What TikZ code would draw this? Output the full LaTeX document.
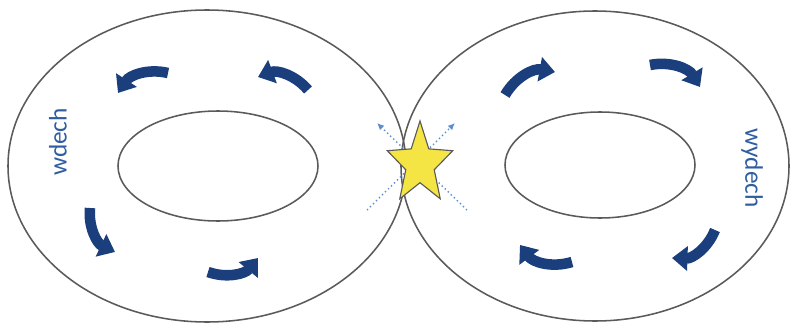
\documentclass[tikz,border=0pt]{standalone}
\usepackage{fontspec}
\setmainfont{Carlito}
\usetikzlibrary{arrows.meta, shapes.geometric}
\definecolor{navy}{HTML}{1B3F7C}
\definecolor{ringgray}{HTML}{5A5A5A}
\definecolor{dotblue}{HTML}{5B8ED0}
\definecolor{staryellow}{HTML}{F4E545}
\definecolor{labelblue}{HTML}{2F5DA0}

\begin{document}
\begin{tikzpicture}[x=0.025cm, y=0.025cm,
        ring/.style={draw=ringgray, line width=1.1pt},
        flow/.style={navy, line width=7.5pt, -{Triangle[width=17pt,length=11pt]}},
        ray/.style={dotblue, dotted, line width=1pt, -{Latex[length=5pt,width=4.5pt]}},
        lbl/.style={text=labelblue, font=\fontsize{18}{20}\selectfont},
        burst/.style={star, star points=5, star point ratio=2.3, fill=staryellow,
                      draw=ringgray, line width=0.8pt, minimum size=2.15cm,
                      inner sep=0pt, xscale=0.8, transform shape},
      ]
        \useasboundingbox (0,0) rectangle (791,324);
        % rings
        \draw[ring] (207,158) ellipse [x radius=199, y radius=156];
        \draw[ring] (595,158) ellipse [x radius=194, y radius=155];
        \draw[ring] (218,158) ellipse [x radius=100, y radius=55];
        \draw[ring] (600,159) ellipse [x radius=95, y radius=53];
        % rays behind the star
        \coordinate (rayA) at (367,114);
        \coordinate (rayB) at (455,201);
        \coordinate (rayC) at (467,114);
        \coordinate (rayD) at (377,201);
        \draw[ray] (rayA) -- (rayB);
        \draw[ray] (rayC) -- (rayD);
        \node[burst] (spark) at (420,160) {};
        % left ring, counterclockwise
        \draw[flow] (168,251) to[bend right=35] (118,231);
        \draw[flow] (308,234) to[bend right=35] (258,247);
        \draw[flow] (90,116) to[bend right=35] (115,72);
        \draw[flow] (208,52) to[bend right=35] (258,66);
        % right ring, clockwise
        \draw[flow] (505,229) to[bend left=35] (555,252);
        \draw[flow] (650,259) to[bend left=35] (700,237);
        \draw[flow] (572,62) to[bend left=35] (520,79);
        \draw[flow] (715,94) to[bend left=35] (672,66);
        % labels
        \node[lbl, rotate=90] (inhale) at (58,182) {wdech};
        \node[lbl, rotate=-90] (exhale) at (752,156) {wydech};
      \end{tikzpicture}
\end{document}
